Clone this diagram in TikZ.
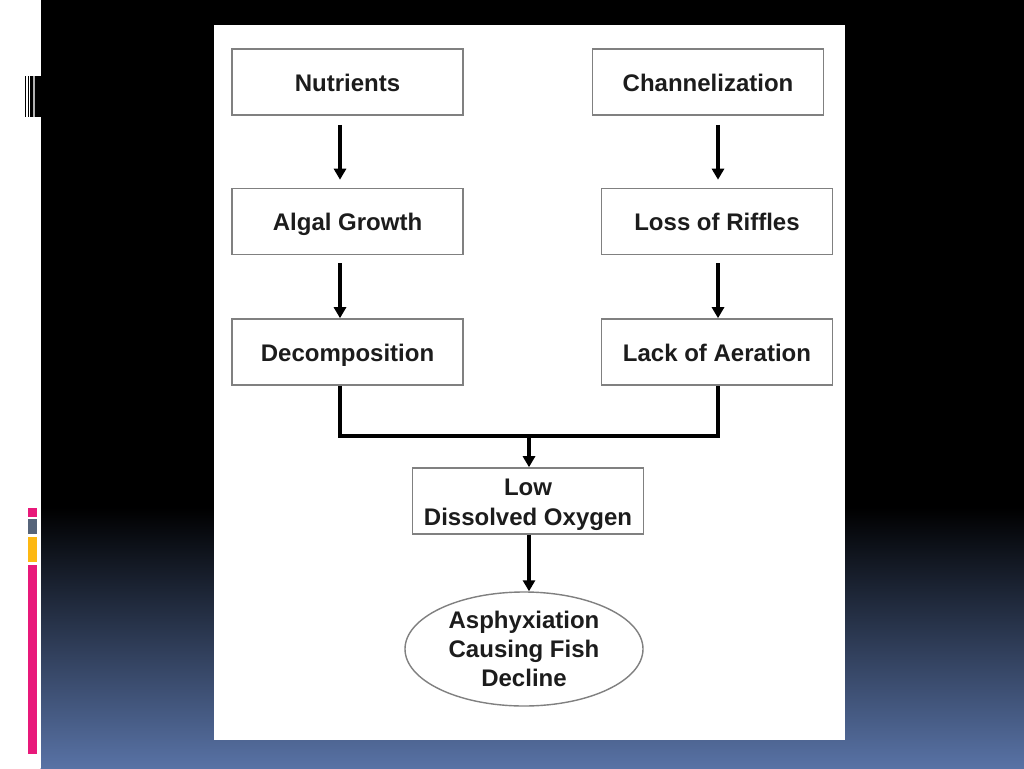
\documentclass[tikz,border=0pt]{standalone}
\usepackage{fontspec}
\setmainfont{Liberation Sans}
\usetikzlibrary{arrows.meta,shapes.geometric}
\definecolor{slideblue}{RGB}{88,114,165}
\definecolor{barpink}{RGB}{232,25,122}
\definecolor{bargray}{RGB}{86,100,122}
\definecolor{baryellow}{RGB}{253,184,19}
\definecolor{boxline}{RGB}{128,128,128}
\definecolor{boxtext}{RGB}{28,28,28}
\begin{document}
\begin{tikzpicture}[
    x=1pt, y=-1pt,
    cause/.style={rectangle, draw=boxline, line width=1.6pt, fill=white,
        minimum width=231pt, minimum height=66pt, inner sep=0pt, text=boxtext,
        font=\fontsize{24}{29.5}\selectfont\bfseries, align=center,
        text height=18pt, text depth=0pt},
    effect/.style={ellipse, draw=boxline, line width=1.4pt, fill=white,
        minimum width=238pt, minimum height=114pt, inner sep=0pt, text=boxtext,
        font=\fontsize{24}{29}\selectfont\bfseries, align=center},
    link/.style={line width=3.4pt, black},
    arrow/.style={link, -{Triangle[width=12pt,length=11pt]}}
]

% slide background
\fill[black] (0,0) rectangle (1024,768);
\shade[top color=black, bottom color=slideblue] (40.5,507) rectangle (1024,768);
\fill[white] (0,0) rectangle (40.5,768);

% side marks
\fill[black] (24.5,76) rectangle (25.6,117);
\fill[black] (27.5,76) rectangle (28.8,117);
\fill[black] (29.6,76) rectangle (33,117);
\fill[gray!60] (33,76) rectangle (35,117);
\fill[black] (35,76) rectangle (40.5,117);
\fill[barpink] (28.3,508) rectangle (36.7,517);
\fill[bargray] (28.3,519) rectangle (36.7,534);
\fill[baryellow] (28.3,537) rectangle (36.7,562);
\fill[barpink] (28.3,565) rectangle (36.7,754);

% panel
\fill[white] (214,25) rectangle (845,740);

\node[cause] (nut) at (347.5,82) {Nutrients};
\node[cause] (alg) at (347.5,221.5) {Algal Growth};
\node[cause] (dec) at (347.5,352) {Decomposition};
\node[cause] (chan) at (708,82) {Channelization};
\node[cause] (riff) at (717,221.5) {Loss of Riffles};
\node[cause] (aer) at (717,352) {Lack of Aeration};
\node[cause, text height=48pt] (low) at (528,501) {Low\\Dissolved Oxygen};
\node[effect] (fish) at (524,649) {Asphyxiation\\Causing Fish\\Decline};

\coordinate (colL) at (340,0);
\coordinate (colR) at (718,0);
\coordinate (join) at (529,436);

\draw[arrow, shorten <=9pt, shorten >=8pt] (nut.south -| colL) -- (alg.north -| colL);
\draw[arrow, shorten <=8pt] (alg.south -| colL) -- (dec.north -| colL);
\draw[arrow, shorten <=9pt, shorten >=8pt] (chan.south -| colR) -- (riff.north -| colR);
\draw[arrow, shorten <=8pt] (riff.south -| colR) -- (aer.north -| colR);
\draw[link] (dec.south -| colL) |- (join) -| (aer.south -| colR);
\draw[arrow] (join) -- (low.north -| join);
\draw[arrow] (low.south -| join) -- (fish.north -| join);

\end{tikzpicture}
\end{document}
